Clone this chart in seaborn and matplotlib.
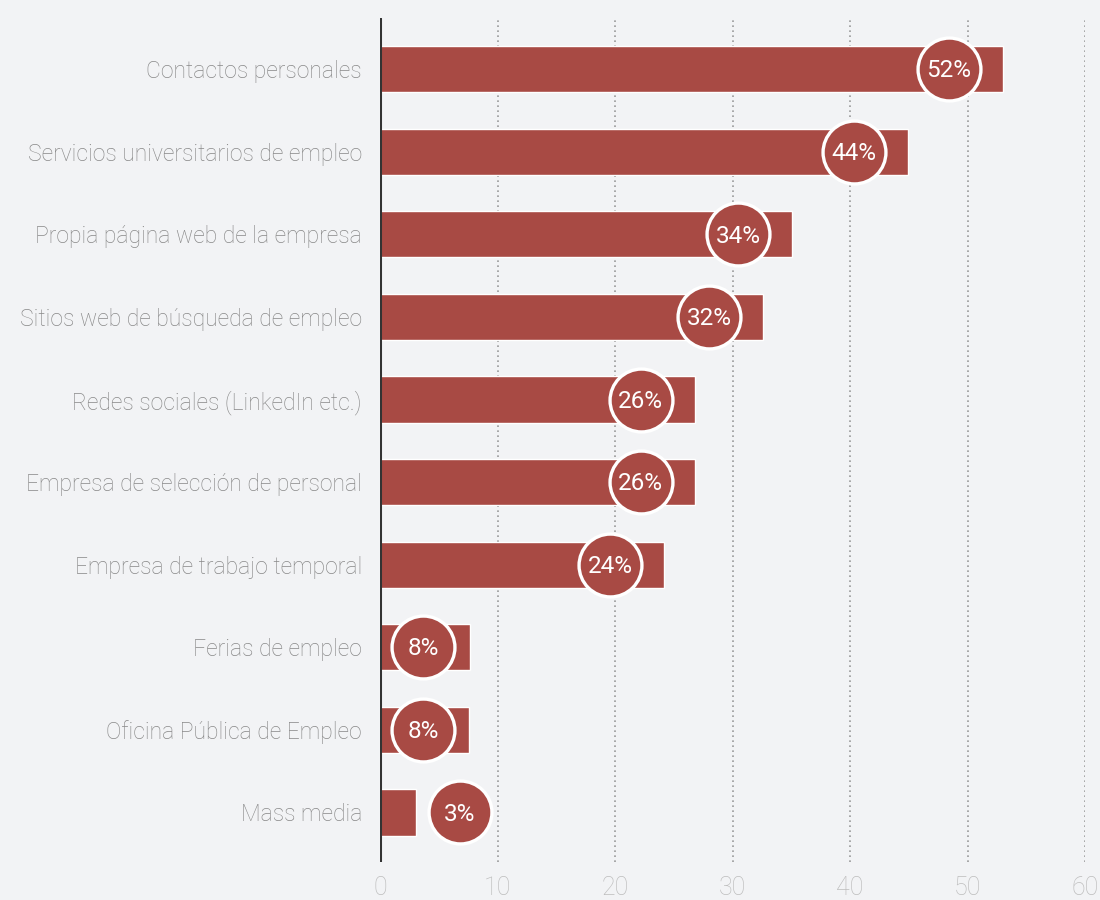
import matplotlib
matplotlib.use("Agg")
import matplotlib.pyplot as plt
import seaborn as sns
import pandas as pd
import numpy as np

categories = [
    "Contactos personales",
    "Servicios universitarios de empleo",
    "Propia página web de la empresa",
    "Sitios web de búsqueda de empleo",
    "Redes sociales (LinkedIn etc.)",
    "Empresa de selección de personal",
    "Empresa de trabajo temporal",
    "Ferias de empleo",
    "Oficina Pública de Empleo",
    "Mass media",
]
bar_values = [53.0, 44.9, 35.1, 32.6, 26.8, 26.8, 24.2, 7.7, 7.6, 3.1]
labels = ["52%", "44%", "34%", "32%", "26%", "26%", "24%", "8%", "8%", "3%"]
x_ticks = [0, 10, 20, 30, 40, 50, 60]

BG = "#f2f3f5"
BAR = "#a84a44"

sns.set_theme(style="white")
plt.rcParams["font.family"] = ["Roboto", "DejaVu Sans"]

df = pd.DataFrame({"cat": categories, "val": bar_values, "lab": labels})

fig = plt.figure(figsize=(11, 9), dpi=100, facecolor=BG)
ax = fig.add_axes([380 / 1100, 1 - 862 / 900, 705 / 1100, (862 - 18) / 900])
ax.set_facecolor(BG)

sns.barplot(data=df, x="val", y="cat", color=BAR, width=0.56, saturation=1,
            ax=ax, zorder=2)

ax.set_xlim(0, 60)
ax.set_ylim(9.6, -0.62)

for t in x_ticks[1:]:
    ax.axvline(t, color="#9a9a9a", lw=1.2, ls=(0, (1, 2)), zorder=1)
ax.axvline(0, color="#333333", lw=2.2, zorder=3)

# circles
cx = []
for v in bar_values:
    if v > 10:
        cx.append(v - 4.6)
    elif v > 5:
        cx.append(3.7)
    else:
        cx.append(v + 3.7)
ys = np.arange(len(categories))
ax.scatter(cx, ys, s=2050, color=BAR, edgecolor="white", linewidth=2.4,
           zorder=4, clip_on=False)
for x, y, lab in zip(cx, ys, df["lab"]):
    ax.text(x, y + 0.02, lab, ha="center", va="center", color="white",
            fontsize=17.5, fontweight="normal", zorder=5)

for s in ax.spines.values():
    s.set_visible(False)

ax.set_xticks(x_ticks)
ax.set_xticklabels([str(t) for t in x_ticks], color="#bdbdbd", fontsize=18,
                   fontweight="light")
ax.tick_params(axis="x", length=0, pad=10)
ax.tick_params(axis="y", length=0, pad=13)
for tl in ax.get_yticklabels():
    tl.set_color("#888888")
    tl.set_fontsize(16.5)
    tl.set_fontweight("light")
ax.set_xlabel("")
ax.set_ylabel("")

fig.savefig("out.png", dpi=100, facecolor=BG)
